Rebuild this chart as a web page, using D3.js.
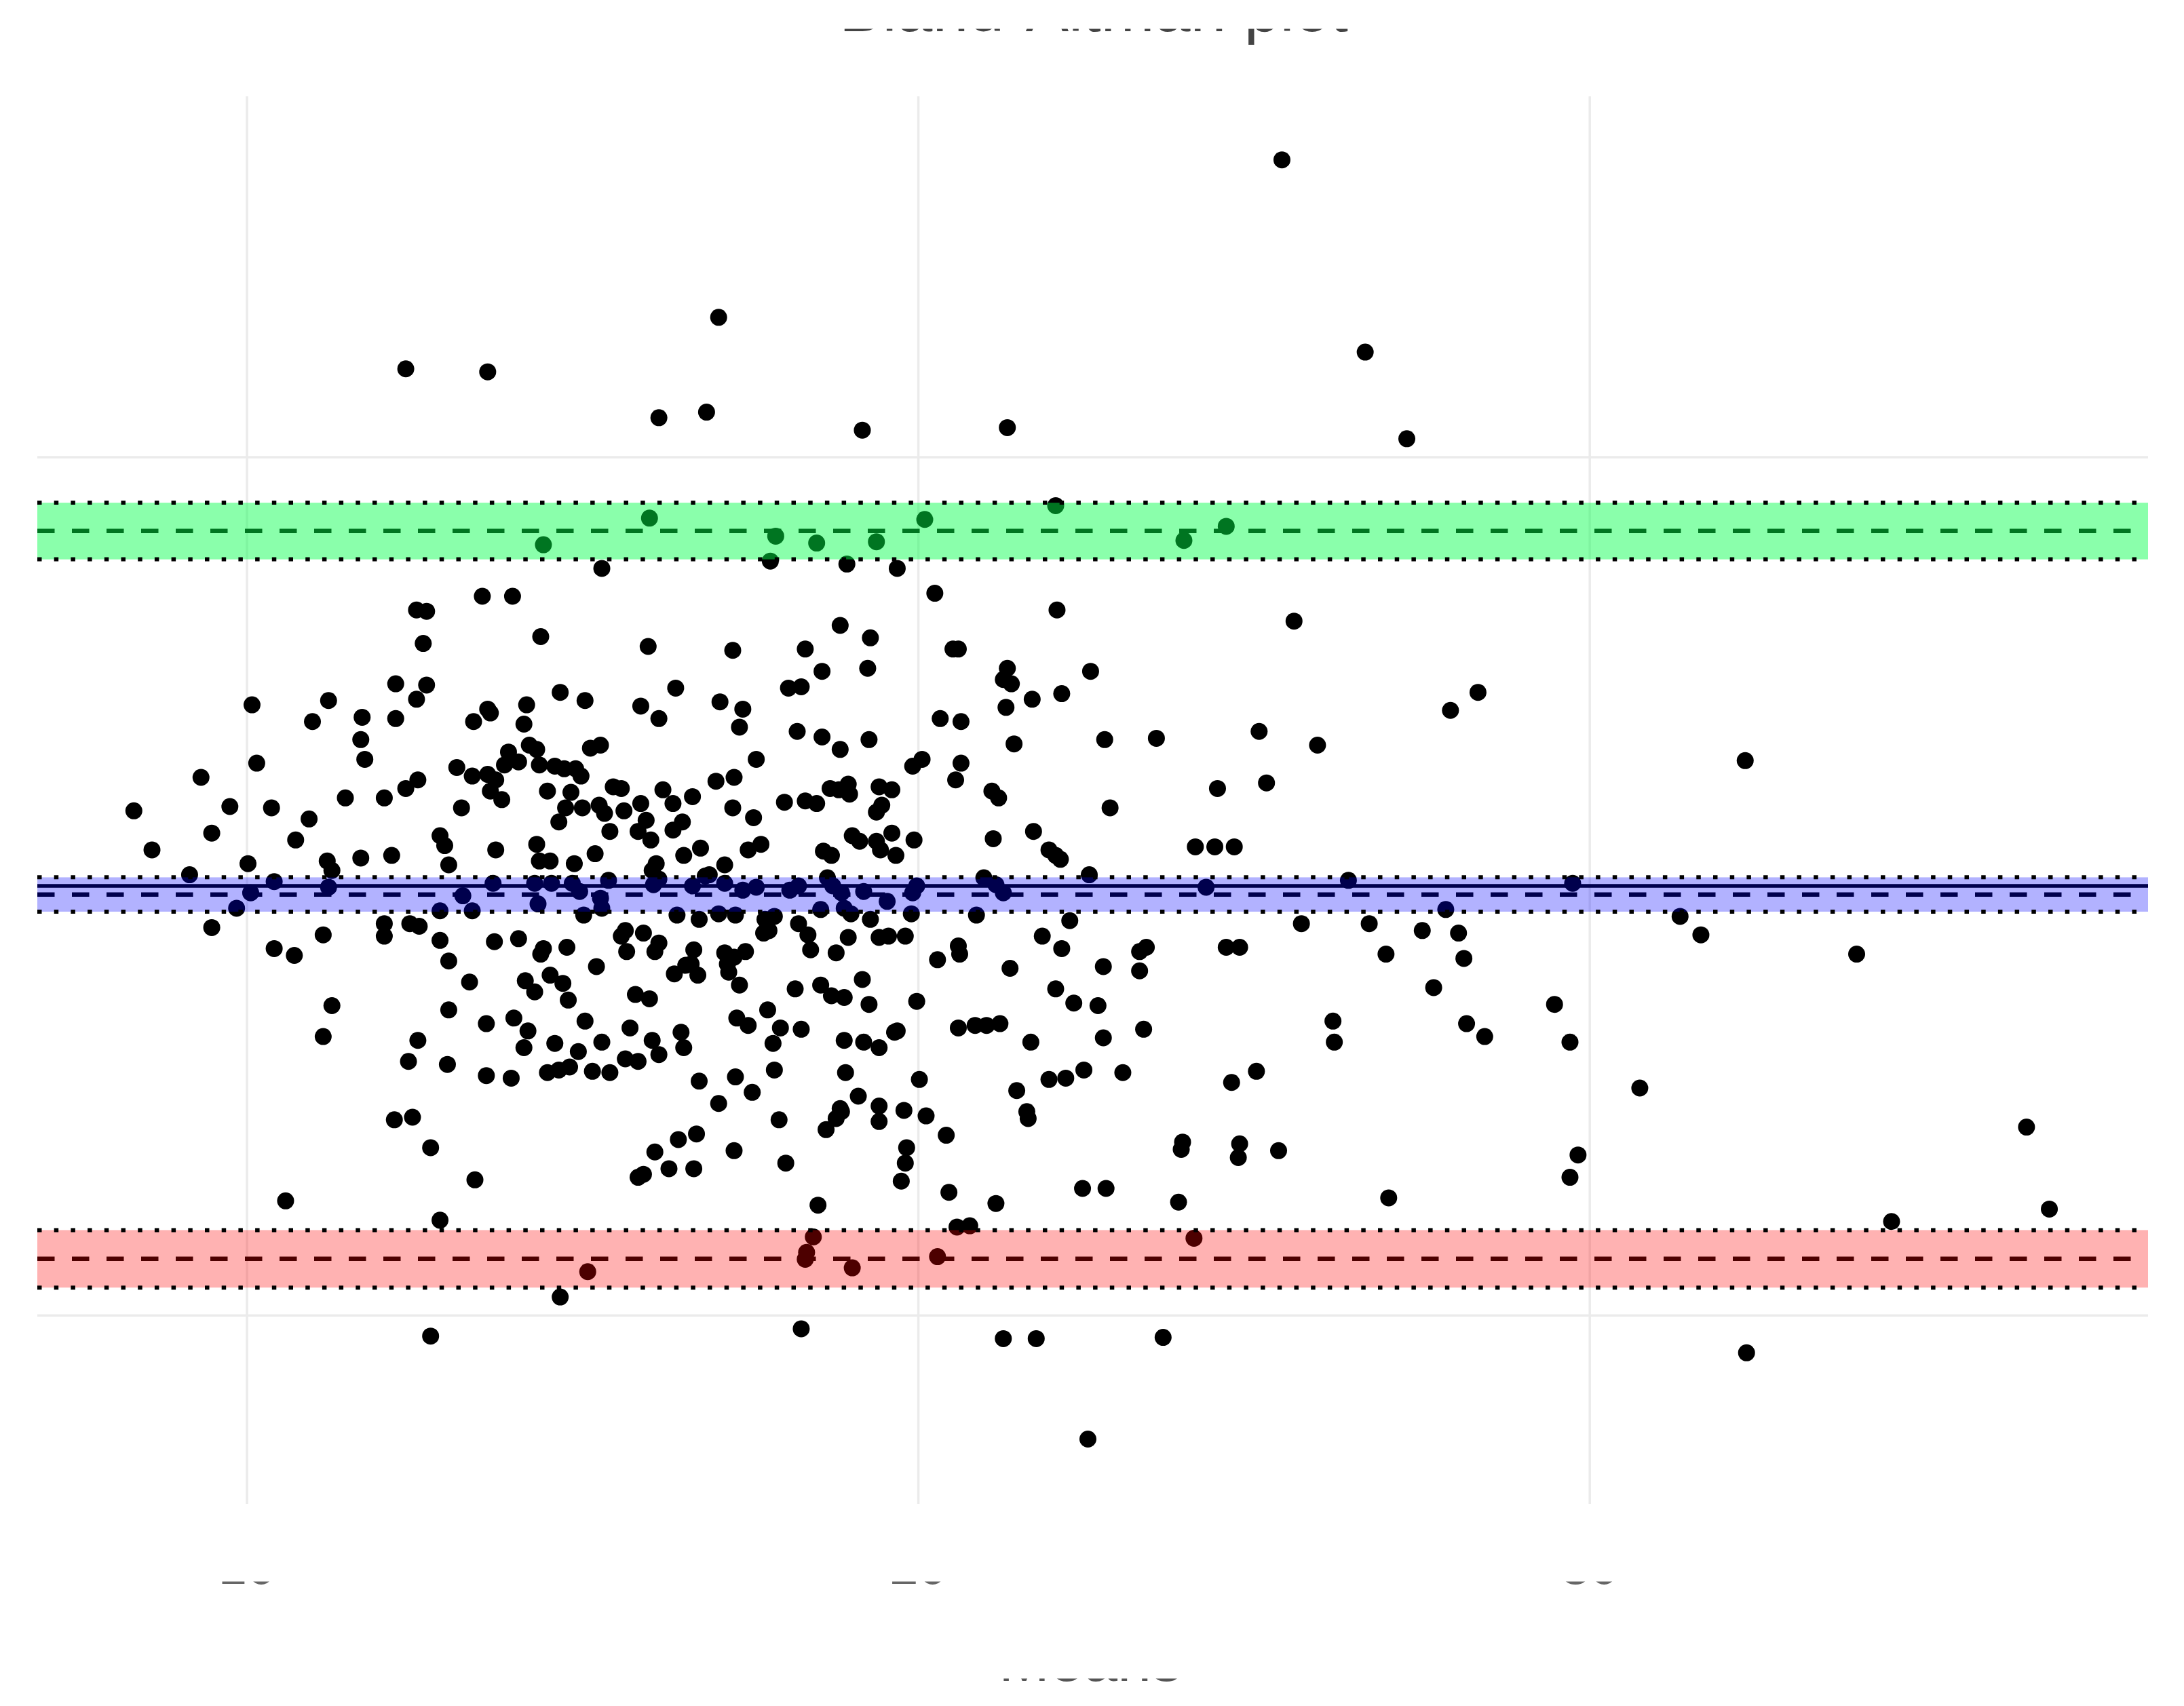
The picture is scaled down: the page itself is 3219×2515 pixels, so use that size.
<!DOCTYPE html>
<html><head><meta charset="utf-8">
<script src="https://cdn.jsdelivr.net/npm/d3@7"></script>
<style>html,body{margin:0;padding:0;background:#fff;} svg{display:block;}</style>
</head><body>
<script>
const titleText = "Bland-Altman plot";
const xAxisTitle = "Means";
const xTicks = [10, 20, 30];
const xTickLabels = ["10", "20", "30"];
const yGridTicks = [-10, 0, 10];
const zeroLine = [0];

const means = [
  25.42,12.37,13.59,17.03,26.66,16.14,16.85,19.17,21.33,27.28,
  14.42,16.00,17.88,18.49,19.38,20.10,22.05,23.96,24.59,17.80,18.94,19.69,15.29,
  20.25,13.51,13.96,12.53,12.68,22.07,25.60,12.63,14.38,15.98,
  17.24,18.32,18.84,19.29,20.52,20.60,19.25,18.57,21.33,22.57,
  12.22,12.68,16.39,18.07,18.26,14.67,15.04,21.39,21.27,22.14,
  21.70,15.87,17.05,17.39,13.59,14.17,13.63,12.53,12.22,11.72,
  11.22,10.98,10.08,17.34,16.14,14.13,13.38,18.20,18.57,19.27,
  20.33,20.64,21.31,25.08,23.55,22.78,27.93,28.34,25.95,32.32,
  11.70,11.76,21.43,14.21,14.32,15.27,15.12,14.05,13.84,13.90,
  14.36,17.59,18.84,17.26,16.99,12.55,12.37,12.05,11.47,10.15,
  9.32,9.75,9.48,8.32,10.37,10.73,10.93,13.13,13.36,13.59,
  13.71,13.63,13.80,13.20,14.59,14.73,14.90,14.98,14.48,14.83,
  14.75,15.00,14.65,15.46,15.58,15.25,15.33,15.62,15.87,16.20,
  16.35,16.64,15.95,15.83,16.35,16.49,17.24,17.55,18.01,18.32,
  18.49,18.69,18.82,18.96,18.98,19.42,19.46,19.61,19.38,19.92,
  20.06,20.64,20.56,21.10,21.20,25.19,24.46,22.86,
  8.59,9.15,17.47,17.66,21.12,21.72,21.95,22.05,22.12,24.13,
  24.42,24.71,11.20,11.27,10.02,11.70,12.16,12.88,12.95,13.01,
  13.71,14.32,14.36,14.52,14.88,15.19,15.41,16.02,16.10,16.04,
  16.51,16.76,16.89,17.12,18.59,18.71,19.02,19.13,19.38,19.44,
  19.61,19.94,19.67,20.98,22.55,
  10.06,10.41,11.22,13.22,13.67,14.29,14.34,14.54,14.85,15.27,
  15.39,16.06,16.14,16.64,16.83,17.12,17.39,17.59,18.09,18.22,
  18.65,18.73,18.86,19.19,19.92,19.98,21.16,21.27,24.29,26.41,
  29.75,9.85,12.88,13.36,15.02,15.29,14.96,16.41,16.74,17.03,
  17.28,17.72,17.86,18.55,18.90,19.00,19.29,19.54,19.90,20.87,
  27.86,31.35,
  9.48,12.05,12.05,12.43,15.64,15.91,18.22,22.26,25.71,26.72,
  31.66,27.51,28.05,28.13,26.97,33.98,24.59,24.79,23.30,23.40,
  21.85,22.14,20.62,20.60,20.29,19.42,19.56,19.81,18.96,18.40,
  18.78,18.36,17.70,17.78,17.43,16.66,16.62,17.12,17.16,17.26,
  16.08,16.14,15.66,15.58,14.77,14.42,14.38,14.05,13.69,12.88,
  12.57,11.14,10.41,10.71,13.01,21.37,22.76,23.30,16.54,15.21,
  22.05,22.32,22.68,22.76,23.36,21.68,21.22,20.85,20.60,21.02,
  19.98,19.69,19.27,19.17,18.90,18.71,18.55,18.17,17.76,17.34,
  17.18,16.72,16.37,15.79,16.00,15.71,16.04,16.47,16.51,16.14,
  15.83,15.64,15.41,15.15,14.81,14.65,14.48,14.13,14.19,13.98,
  13.57,13.32,13.01,12.55,12.41,11.27,11.14,12.99,13.57,13.94,
  14.94,15.04,15.29,14.59,14.29,14.15,14.52,14.71,14.79,17.84,
  17.95,17.30,17.47,17.28,16.74,17.03,17.53,17.86,18.26,18.90,
  19.19,18.92,19.42,19.65,20.02,19.11,19.42,21.47,21.95,22.20,
  22.47,23.05,24.67,25.04,26.18,26.20,29.48,29.71,30.75,28.17,
  28.44,27.68,
  18.86,18.78,19.42,19.79,20.12,20.42,19.83,19.81,19.75,20.46,
  21.16,21.62,21.64,12.20,12.47,12.74,13.40,16.08,16.29,16.43,
  16.70,16.66,17.26,17.93,18.03,18.63,18.84,15.83,15.91,22.45,
  22.80,23.94,23.92,24.79,24.77,25.37,23.88,27.01,29.71,29.83,
  36.51,36.85,10.58,12.88,18.51,
  20.58,20.77,34.50,18.44,18.34,18.32,19.02,15.08,14.67,20.29,
  24.11,12.74,18.26,21.27,21.76,23.65,32.34,22.53
];
const diffs = [
  16.92,12.05,11.98,13.25,12.44,10.91,11.04,10.62,10.68,10.42,
  7.95,8.57,8.15,7.99,8.02,8.54,8.86,8.05,8.38,7.57,7.50,7.40,7.40,
  6.82,6.75,6.75,6.43,6.40,6.43,6.17,5.65,5.81,5.58,
  5.49,5.52,6.07,5.78,5.52,5.52,5.07,5.00,5.07,5.00,
  4.71,4.68,4.61,4.61,4.64,4.51,4.32,4.71,4.81,4.48,
  4.35,4.19,4.29,4.12,4.12,4.22,4.03,4.35,3.90,3.93,
  4.32,3.83,4.22,3.70,3.90,3.77,3.83,3.60,3.47,3.41,
  3.90,3.83,4.16,3.60,3.44,3.41,4.09,4.51,3.28,2.92,
  3.41,2.95,3.31,3.28,3.18,3.28,3.21,2.89,2.82,3.12,
  2.82,2.95,3.18,2.53,2.44,2.47,2.27,2.05,2.05,2.86,
  2.53,1.85,1.23,1.75,1.82,1.07,1.56,2.76,2.56,2.60,
  2.47,2.21,2.01,1.82,2.79,2.73,2.73,2.56,2.21,2.18,
  1.82,1.82,1.49,2.31,2.27,1.88,1.69,1.75,1.92,2.24,
  1.92,2.08,1.53,1.27,1.30,1.49,1.82,1.59,1.95,1.98,
  1.92,2.27,2.24,2.37,2.14,2.31,1.88,2.24,1.72,2.79,
  2.95,2.86,2.47,2.21,2.05,2.40,2.27,1.82,
  0.84,0.26,0.84,0.97,1.10,1.27,0.84,0.71,0.62,0.91,
  0.91,0.91,0.58,0.36,0.52,0.65,0.71,1.17,0.94,0.49,
  0.84,0.97,0.58,0.58,0.52,0.75,1.27,1.07,0.52,0.36,
  0.71,0.88,0.26,0.49,0.81,0.71,1.17,1.04,1.04,0.84,
  1.23,1.07,0.71,0.19,0.26,
  -0.16,0.10,-0.03,-0.23,0.06,0.06,-0.42,0.06,0.06,-0.29,
  0.13,0.03,0.16,0.00,0.23,0.06,-0.10,-0.03,-0.10,0.00,
  0.19,0.00,-0.16,-0.13,-0.16,0.00,0.03,-0.16,-0.03,0.13,
  0.06,-0.52,-0.58,-0.58,-0.68,-0.52,-0.13,-0.68,-0.78,-0.65,
  -0.68,-0.78,-0.71,-0.55,-0.52,-0.65,-0.78,-0.36,-0.65,-0.68,
  -0.55,-0.71,
  -0.97,-0.88,-1.17,-0.88,-1.04,-1.10,-0.88,-0.81,-0.88,-0.88,
  -1.14,-1.04,-1.10,-1.69,-1.59,-1.59,-1.43,-1.43,-1.53,-1.43,
  -1.17,-1.46,-1.59,-1.40,-1.72,-1.20,-1.17,-1.17,-1.20,-1.49,
  -1.56,-1.14,-1.10,-1.04,-1.53,-1.49,-1.82,-1.56,-1.82,-1.66,
  -1.53,-1.33,-1.53,-1.17,-1.43,-1.46,-1.59,-1.23,-1.30,-1.27,
  -0.94,-1.14,-1.46,-1.62,-1.75,-1.92,-1.88,-1.98,-1.85,-1.88,
  -2.40,-2.73,-2.79,-3.54,-3.34,-3.64,-3.21,-3.25,-3.31,-3.25,
  -2.69,-3.38,-2.76,-2.18,-2.60,-2.56,-2.31,-2.40,-2.89,-2.31,
  -2.01,-2.08,-2.05,-2.53,-2.63,-3.31,-3.60,-3.41,-3.77,-3.93,
  -4.09,-4.03,-4.35,-4.32,-4.22,-4.29,-4.35,-3.77,-3.38,-3.08,
  -3.21,-2.24,-2.89,-3.60,-4.09,-2.79,-3.51,-4.16,-4.42,-4.48,
  -3.86,-3.15,-3.64,-3.67,-2.47,-2.21,-2.08,-2.27,-2.66,-3.67,
  -3.31,-3.08,-3.25,-4.45,-4.55,-5.07,-4.81,-4.29,-3.34,-3.60,
  -3.64,-4.35,-3.77,-3.41,-4.51,-4.90,-5.13,-4.77,-4.51,-4.48,
  -4.29,-4.35,-4.58,-4.32,-3.15,-3.64,-2.76,-3.64,-4.71,-3.21,
  -3.51,-2.37,
  -5.26,-5.42,-5.49,-5.23,-5.36,-5.81,-6.10,-6.46,-6.88,-7.14,
  -7.40,-5.26,-5.42,-5.45,-5.39,-6.10,-6.85,-6.20,-6.59,-5.91,
  -5.78,-6.59,-6.17,-5.45,-6.46,-5.68,-5.19,-6.79,-6.72,-7.05,
  -7.05,-5.97,-6.14,-6.01,-6.33,-6.17,-7.37,-7.27,-6.79,-6.27,
  -5.62,-7.53,-7.34,-7.79,-7.44,
  -7.95,-7.92,-7.82,-8.18,-8.54,-8.70,-8.90,-8.99,-9.58,-8.64,
  -8.21,-10.49,-10.32,-10.55,-10.55,-10.52,-10.88,-12.89
];

// Reference lines: upper limit of agreement, mean difference, lower limit of agreement
const bandNames   = ["upper", "mean", "lower"];
const bandCenters = [8.27, -0.20, -8.69];
const bandLows    = [7.61, -0.60, -9.36];
const bandHighs   = [8.93, 0.20, -8.02];
const bandColors  = ["#00ff48", "#0000ff", "#ff0000"];
const bandAlpha   = [0.46, 0.30, 0.30];

const W = 3219, H = 2515;
const panel = {left: 55, right: 3166, top: 142, bottom: 2217};

const x = d3.scaleLinear().domain([6.882, 38.32]).range([panel.left, panel.right]);
const y = d3.scaleLinear().domain([-14.40, 18.40]).range([panel.bottom, panel.top]);

const svg = d3.select("body").append("svg")
  .attr("width", W).attr("height", H)
  .attr("font-family", "'Liberation Sans', Arial, sans-serif");
svg.append("rect").attr("width", W).attr("height", H).attr("fill", "#fff");

const defs = svg.append("defs");
function strip(id, base, font) {
  defs.append("clipPath").attr("id", id).attr("clipPathUnits", "userSpaceOnUse")
    .append("rect").attr("x", 0).attr("y", base - 3.5).attr("width", W).attr("height", font * 0.4);
}
const titleBase = 46, tickBase = 2335, xTitleBase = 2478;
strip("clipTitle", titleBase, 95);
strip("clipTicks", tickBase, 76);
strip("clipXTitle", xTitleBase, 90);

// grid
const gridG = svg.append("g");
gridG.append("g").attr("transform", `translate(0,${panel.bottom})`)
  .call(d3.axisBottom(x).tickValues(xTicks).tickSize(-(panel.bottom - panel.top)).tickFormat(""))
  .call(g => g.select(".domain").remove())
  .call(g => g.selectAll("line").attr("stroke", "#ebebeb").attr("stroke-width", 3.5));
gridG.append("g").attr("transform", `translate(${panel.left},0)`)
  .call(d3.axisLeft(y).tickValues(yGridTicks).tickSize(-(panel.right - panel.left)).tickFormat(""))
  .call(g => g.select(".domain").remove())
  .call(g => g.selectAll("line").attr("stroke", "#ebebeb").attr("stroke-width", 3.5));

// zero line (solid) and dashed centre lines
svg.append("g").selectAll("line").data(zeroLine).join("line")
  .attr("x1", panel.left).attr("x2", panel.right)
  .attr("y1", d => y(d)).attr("y2", d => y(d))
  .attr("stroke", "#000").attr("stroke-width", 5.5);
svg.append("g").selectAll("line").data(bandCenters).join("line")
  .attr("x1", panel.left).attr("x2", panel.right)
  .attr("y1", d => y(d)).attr("y2", d => y(d))
  .attr("stroke", "#000").attr("stroke-width", 6.5)
  .attr("stroke-dasharray", "25.5,25.5");

// points
svg.append("g").selectAll("circle").data(means.map((m, i) => [m, diffs[i]])).join("circle")
  .attr("cx", d => x(d[0])).attr("cy", d => y(d[1])).attr("r", 12.5).attr("fill", "#000");

// confidence bands
svg.append("g").selectAll("rect").data(bandNames).join("rect")
  .attr("x", panel.left).attr("width", panel.right - panel.left)
  .attr("y", (d, i) => y(bandHighs[i]))
  .attr("height", (d, i) => y(bandLows[i]) - y(bandHighs[i]))
  .attr("fill", (d, i) => bandColors[i]).attr("fill-opacity", (d, i) => bandAlpha[i]);

// dotted CI bounds
svg.append("g").selectAll("line").data(bandLows.concat(bandHighs)).join("line")
  .attr("x1", panel.left).attr("x2", panel.right)
  .attr("y1", d => y(d)).attr("y2", d => y(d))
  .attr("stroke", "#000").attr("stroke-width", 6)
  .attr("stroke-dasharray", "6.5,18.2");

// x tick labels
svg.append("g").attr("clip-path", "url(#clipTicks)")
  .append("g").attr("transform", `translate(0,${tickBase})`)
  .call(d3.axisBottom(x).tickValues(xTicks).tickFormat((d, i) => xTickLabels[i]).tickSize(0).tickPadding(0))
  .call(g => g.select(".domain").remove())
  .call(g => g.selectAll("text").attr("y", 0).attr("dy", 0)
    .attr("font-size", 76).attr("fill", "#666")
    .attr("font-family", "'Liberation Sans', Arial, sans-serif"));

// titles
svg.append("g").attr("clip-path", "url(#clipTitle)")
  .append("text").attr("x", 1612).attr("y", titleBase)
  .attr("text-anchor", "middle").attr("font-size", 95).attr("fill", "#444")
  .text(titleText);
svg.append("g").attr("clip-path", "url(#clipXTitle)")
  .append("text").attr("x", 1607).attr("y", xTitleBase)
  .attr("text-anchor", "middle").attr("font-size", 90).attr("fill", "#555")
  .text(xAxisTitle);
</script>
</body></html>
